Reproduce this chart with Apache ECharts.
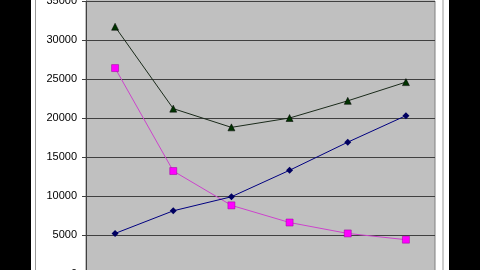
<!DOCTYPE html>
<html>
<head>
<meta charset="utf-8">
<script src="https://cdn.jsdelivr.net/npm/echarts@6/dist/echarts.min.js"></script>
<style>
html,body{margin:0;padding:0;background:#000;}
#c{width:480px;height:270px;}
</style>
</head>
<body>
<div id="c"></div>
<script>
var categories = ['1', '2', '3', '4', '5', '6'];
var triangleSeries = [31700, 21200, 18800, 20000, 22200, 24600];
var squareSeries = [26400, 13200, 8800, 6600, 5200, 4400];
var diamondSeries = [5200, 8100, 9900, 13300, 16900, 20300];
var yTicks = [0, 5000, 10000, 15000, 20000, 25000, 30000, 35000];

var chart = echarts.init(document.getElementById('c'));
chart.setOption({
  backgroundColor: '#000000',
  animation: false,
  graphic: [
    { type: 'rect', z: -10, shape: { x: 31, y: -2, width: 418, height: 280 }, style: { fill: '#ffffff' } },
    { type: 'rect', z: -9, shape: { x: 35.5, y: -2, width: 407.5, height: 280 }, style: { fill: 'none', stroke: '#999999', lineWidth: 1 } }
  ],
  grid: {
    left: 86, right: 45, top: 1, bottom: -4,
    containLabel: false,
    outerBoundsMode: 'none',
    show: true, backgroundColor: '#C0C0C0', borderColor: '#808080', borderWidth: 1
  },
  xAxis: {
    type: 'category',
    data: categories,
    boundaryGap: true,
    axisLine: { lineStyle: { color: '#404040' } },
    axisTick: { show: false },
    axisLabel: { show: false },
    splitLine: { show: false }
  },
  yAxis: {
    type: 'value',
    min: yTicks[0],
    max: yTicks[yTicks.length - 1],
    interval: 5000,
    axisLine: { show: true, lineStyle: { color: '#404040', width: 1 } },
    axisTick: { show: true, length: 4, lineStyle: { color: '#404040' } },
    axisLabel: {
      color: '#000000', fontFamily: 'Liberation Sans, Arial, sans-serif', fontSize: 11, margin: 9,
      formatter: function (v) { return String(v); }
    },
    splitLine: { show: true, lineStyle: { color: '#404040', width: 1 } }
  },
  series: [
    {
      type: 'line', data: triangleSeries,
      symbol: 'triangle', symbolSize: 7,
      lineStyle: { color: '#1a2a1a', width: 1 },
      itemStyle: { color: '#003300', borderColor: '#000000', borderWidth: 0.5 }
    },
    {
      type: 'line', data: squareSeries,
      symbol: 'rect', symbolSize: 7,
      lineStyle: { color: '#CC44CC', width: 1 },
      itemStyle: { color: '#FF00FF', borderColor: '#990099', borderWidth: 0.5 }
    },
    {
      type: 'line', data: diamondSeries,
      symbol: 'diamond', symbolSize: 7,
      lineStyle: { color: '#000080', width: 1 },
      itemStyle: { color: '#000060' }
    }
  ]
});
</script>
</body>
</html>
